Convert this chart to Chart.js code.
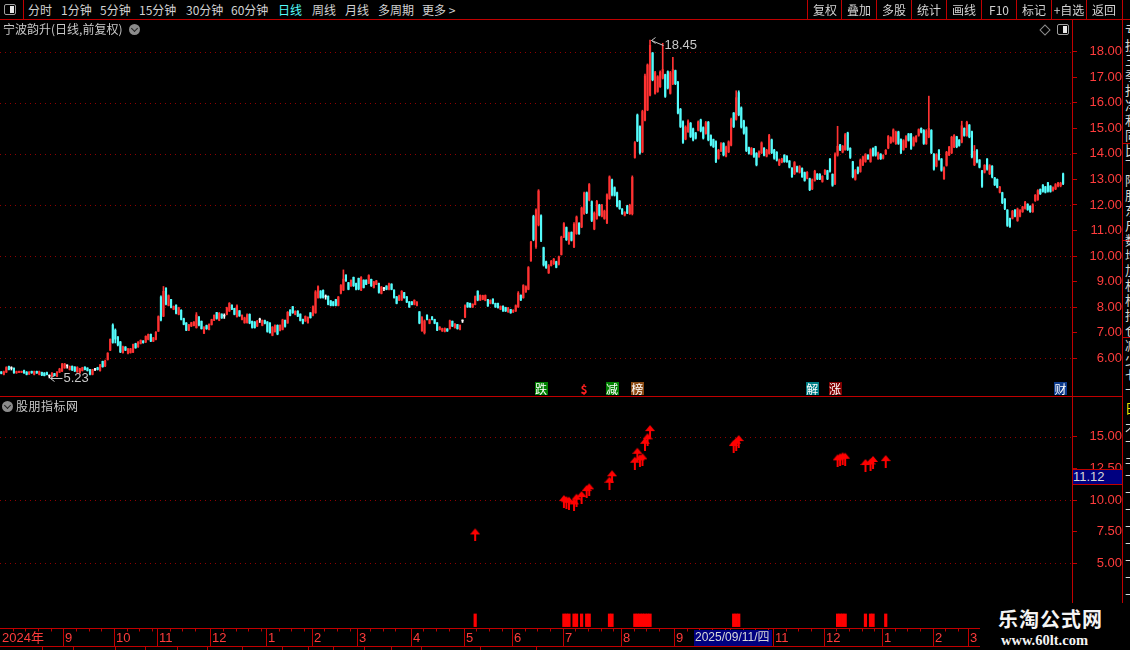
<!DOCTYPE html>
<html>
<head>
<meta charset="utf-8">
<title>宁波韵升 日线</title>
<script src="https://cdn.jsdelivr.net/npm/chart.js@4.4.1/dist/chart.umd.min.js"></script>
<style>
  html, body { margin: 0; padding: 0; background: #000; }
  #stage { position: relative; width: 1130px; height: 650px; overflow: hidden; background: #000;
           font-family: "Noto Sans CJK SC", "Liberation Sans", sans-serif; color: #c8c8c8; }
  .abs { position: absolute; }
  .tb { position: absolute; top: 2px; font-size: 12px; line-height: 16px; color: #d2d2d2; white-space: nowrap; }
  .tbr { position: absolute; top: 2px; width: 34px; text-align: center; font-size: 12px; line-height: 16px; color: #d2d2d2; }
  .vline { position: absolute; width: 1px; background: #c00000; }
  .hline { position: absolute; height: 1px; background: #c00000; }
  .tag { position: absolute; top: 382px; width: 13px; height: 13px; font-size: 12px; line-height: 13px;
         text-align: center; color: #fff; }
  .circ { position: absolute; width: 11px; height: 11px; border-radius: 50%; background: #8c8c8c; }
  .circ::after { content: ""; position: absolute; left: 3px; top: 2px; width: 4px; height: 4px;
                 border-right: 1.5px solid #222; border-bottom: 1.5px solid #222; transform: rotate(45deg); }
  .icon { position: absolute; width: 10px; height: 9px; border: 1.5px solid #a0a0a0; border-radius: 2px; }
  .icon::after { content: ""; position: absolute; right: 1px; top: 1px; width: 4px; height: 7px; background: #e8e8e8; }
  canvas { position: absolute; left: 0; }
</style>
</head>
<body>
<div id="stage">
  <!-- toolbar -->
  <div class="icon" style="left:4px;top:4px;"></div>
  <div class="vline" style="left:23px;top:0;height:20px;"></div>
  <span class="tb" style="left:28px;">分时</span>
  <span class="tb" style="left:61px;">1分钟</span>
  <span class="tb" style="left:100px;">5分钟</span>
  <span class="tb" style="left:139px;">15分钟</span>
  <span class="tb" style="left:186px;">30分钟</span>
  <span class="tb" style="left:231px;">60分钟</span>
  <span class="tb" style="left:278px;color:#54fcfc;">日线</span>
  <span class="tb" style="left:312px;">周线</span>
  <span class="tb" style="left:345px;">月线</span>
  <span class="tb" style="left:378px;">多周期</span>
  <span class="tb" style="left:422px;">更多 &gt;</span>
  <div class="hline" style="left:0;top:19px;width:1130px;"></div>

  <canvas id="main" width="1122" height="377" style="top:20px"></canvas>
  <canvas id="sub" width="1122" height="231" style="top:397px"></canvas>
  <canvas id="axis" width="1122" height="22" style="top:628px"></canvas>

  <!-- titles -->
  <span class="abs" style="left:3px;top:21px;font-size:12px;line-height:16px;color:#c8c8c8;">宁波韵升(日线,前复权)</span>
  <div class="circ" style="left:129px;top:24px;"></div>
  <div class="abs" style="left:1041px;top:26px;width:6px;height:6px;border:1px solid #8c8c8c;transform:rotate(45deg);"></div>
  <div class="icon" style="left:1057px;top:24px;"></div>

  <div class="hline" style="left:0;top:396px;width:1122px;"></div>
  <div class="circ" style="left:2px;top:401px;"></div>
  <span class="abs" style="left:16px;top:398px;font-size:12px;line-height:16px;color:#c8c8c8;letter-spacing:0.5px;">股朋指标网</span>

  <!-- cursor value on the indicator axis -->
  <div class="abs" style="left:1073px;top:469px;width:49px;height:14px;background:#000080;border-top:1px solid #c00000;border-bottom:1px solid #c00000;font:13px 'Liberation Sans';line-height:14px;color:#d8d8d8;">11.12</div>

  <!-- clipped side panel -->
  <div class="vline" style="left:1122px;top:0;height:650px;"></div>
  <div class="abs" style="left:1125px;top:22px;width:5px;height:372px;overflow:hidden;font-size:13px;line-height:15px;color:#d8d8d8;">亏<br>损<br>三<br>季<br>报<br>净<br>利<br>同<br>比<br>下<br>降<br>股<br>东<br>户<br>数<br>增<br>加<br>机<br>构<br>持<br>仓<br>减<br>少<br>七<br>十</div>
  <div class="hline" style="left:1123px;top:143px;width:7px;"></div>
  <div class="hline" style="left:1123px;top:240px;width:7px;"></div>
  <div class="hline" style="left:1123px;top:337px;width:7px;"></div>
  <div class="abs" style="left:1125px;top:400px;width:5px;height:15px;overflow:hidden;font-size:13px;line-height:15px;color:#e8e800;">日</div>
  <div class="abs" style="left:1125px;top:420px;width:5px;height:185px;overflow:hidden;font-size:13px;line-height:17px;color:#d8d8d8;">不<br>下<br>干<br>下<br>下<br>下<br>下<br>下<br>下<br>下<br>下</div>

  <!-- watermark -->
  <div class="abs" style="left:980px;top:603px;width:150px;height:47px;background:#000;"></div>
  <div class="abs" style="left:998px;top:606px;font-size:20px;line-height:26px;font-weight:bold;color:#f4f4f4;letter-spacing:1px;">乐淘公式网</div>
  <div class="abs" style="left:1001px;top:632px;font:bold 14.5px 'Liberation Serif';line-height:16px;color:#f4f4f4;">www.60lt.com</div>
</div>

<script>
// daily candles [open, high, low, close]
// Aug - Sep 2024
const kline1 = [
  [5.47,5.48,5.39,5.41],[5.37,5.50,5.35,5.47],[5.46,5.67,5.44,5.64],[5.68,5.70,5.54,5.56],
  [5.60,5.67,5.54,5.60],[5.61,5.63,5.41,5.44],[5.43,5.50,5.41,5.48],[5.45,5.50,5.44,5.49],
  [5.45,5.50,5.44,5.49],[5.52,5.54,5.41,5.43],[5.46,5.48,5.35,5.37],[5.38,5.48,5.37,5.46],
  [5.49,5.50,5.41,5.43],[5.37,5.50,5.35,5.48],[5.49,5.50,5.41,5.42],[5.37,5.50,5.35,5.48],
  [5.45,5.46,5.32,5.34],[5.42,5.44,5.31,5.32],[5.44,5.46,5.35,5.36],[5.30,5.35,5.23,5.30],
  [5.30,5.44,5.28,5.42],[5.40,5.41,5.31,5.32],[5.30,5.48,5.28,5.46],[5.46,5.61,5.44,5.58],
  [5.50,5.80,5.48,5.76],[5.62,5.80,5.61,5.78],[5.70,5.74,5.61,5.70],[5.56,5.70,5.54,5.68],
  [5.69,5.70,5.52,5.54],[5.66,5.67,5.48,5.50],[5.47,5.67,5.45,5.64],[5.43,5.61,5.41,5.59],
  [5.52,5.65,5.50,5.63],[5.66,5.67,5.54,5.56],[5.62,5.63,5.50,5.52],[5.56,5.57,5.35,5.38],
  [5.37,5.57,5.35,5.55],[5.56,5.61,5.52,5.56],[5.63,5.65,5.54,5.56],[5.52,5.76,5.50,5.74],
  [5.88,5.89,5.65,5.67],[5.70,5.93,5.67,5.90],[5.95,6.22,5.93,6.20],[6.32,6.76,6.30,6.74]
];
// Oct 2024 - early Jan 2025
const kline2 = [
  [7.30,7.35,6.59,6.62],[7.10,7.15,6.60,6.75],[6.84,6.85,6.48,6.52],[6.64,6.66,6.22,6.25],
  [6.22,6.48,6.20,6.45],[6.44,6.46,6.30,6.32],[6.20,6.39,6.17,6.37],[6.22,6.39,6.20,6.37],
  [6.24,6.56,6.22,6.54],[6.57,6.59,6.39,6.41],[6.45,6.65,6.43,6.63],[6.58,6.72,6.56,6.70],
  [6.68,6.69,6.59,6.61],[6.64,6.88,6.61,6.86],[6.74,6.95,6.72,6.93],[6.94,6.95,6.65,6.67],
  [6.67,6.82,6.65,6.80],[6.74,7.05,6.72,7.02],[7.06,7.66,7.05,7.63],[8.40,8.44,7.46,7.50],
  [7.65,8.81,7.63,8.62],[8.75,8.76,8.09,8.12],[8.07,8.48,8.05,8.45],[8.30,8.31,7.97,7.99],
  [7.92,8.05,7.90,8.03],[8.08,8.09,7.74,7.76],[7.72,8.00,7.70,7.98],[7.88,7.90,7.50,7.52],
  [7.55,7.57,7.31,7.33],[7.38,7.40,7.08,7.10],[7.10,7.33,7.08,7.31],[7.26,7.41,7.24,7.39],
  [7.28,7.44,7.27,7.42],[7.20,7.79,7.18,7.70],[7.62,7.63,7.27,7.30],[7.45,7.46,7.14,7.16],
  [6.98,7.24,6.96,7.20],[7.28,7.30,7.13,7.16],[7.12,7.35,7.11,7.33],[7.32,7.53,7.30,7.51],
  [7.49,7.70,7.47,7.68],[7.79,7.80,7.53,7.56],[7.49,7.79,7.47,7.76],[7.73,7.74,7.56,7.58],
  [7.65,7.74,7.56,7.65],[7.72,8.00,7.70,7.97],[7.85,8.18,7.83,8.15],[8.08,8.09,7.90,7.92],
  [7.95,7.96,7.70,7.72],[7.63,8.09,7.61,8.05],[7.86,7.87,7.64,7.66],[7.52,7.70,7.50,7.68],
  [7.39,7.61,7.37,7.58],[7.40,7.74,7.37,7.70],[7.72,7.74,7.35,7.38],[7.45,7.46,7.18,7.21],
  [7.42,7.44,7.18,7.20],[7.26,7.48,7.24,7.46],[7.50,7.57,7.40,7.50],[7.29,7.50,7.27,7.48],
  [7.48,7.50,7.35,7.37],[7.42,7.44,7.02,7.05]
];
// Jan - Jun 2025
const kline3 = [
  [7.38,7.40,6.98,7.00],[6.90,7.24,6.88,7.22],[7.04,7.31,7.02,7.28],[7.29,7.31,6.92,6.95],
  [7.09,7.31,7.07,7.29],[7.13,7.53,7.11,7.50],[7.49,7.50,7.22,7.25],[7.38,7.83,7.37,7.80],
  [7.89,7.90,7.66,7.68],[8.02,8.03,7.76,7.78],[7.72,7.86,7.70,7.84],[7.85,7.86,7.63,7.65],
  [7.73,7.74,7.46,7.48],[7.52,7.53,7.35,7.37],[7.46,7.66,7.44,7.64],[7.39,7.62,7.37,7.60],
  [7.78,7.79,7.57,7.59],[7.68,8.05,7.66,8.02],[7.78,8.65,7.76,8.60],[8.37,8.84,8.35,8.80],
  [8.63,8.65,8.35,8.38],[8.66,8.68,8.35,8.38],[8.40,8.48,8.31,8.40],[8.43,8.44,8.09,8.11],
  [8.25,8.26,8.05,8.07],[8.21,8.22,8.05,8.07],[8.30,8.31,8.05,8.07],[8.07,8.42,8.05,8.40],
  [8.55,8.88,8.52,8.85],[8.67,9.46,8.65,9.10],[9.26,9.27,9.01,9.03],[8.96,8.97,8.68,8.70],
  [8.83,9.07,8.81,9.05],[9.17,9.18,8.81,8.84],[8.93,8.94,8.68,8.70],[9.13,9.14,8.68,8.71],
  [8.67,9.20,8.65,9.17],[9.06,9.07,8.75,8.77],[9.06,9.07,8.88,8.90],[8.94,9.27,8.92,9.24],
  [9.09,9.10,8.81,8.84],[8.77,9.01,8.75,8.99],[8.89,9.05,8.88,9.03],[8.93,8.94,8.55,8.58],
  [8.54,8.81,8.52,8.79],[8.72,8.78,8.65,8.72],[8.83,8.84,8.68,8.70],[8.70,8.94,8.68,8.92],
  [8.90,8.92,8.68,8.70],[8.67,8.68,8.35,8.38],[8.41,8.42,8.13,8.15],[8.28,8.47,8.26,8.45],
  [8.28,8.65,8.26,8.62],[8.57,8.58,8.35,8.37],[8.41,8.42,8.18,8.20],[8.21,8.22,7.99,8.01],
  [8.21,8.22,8.09,8.10],[8.11,8.29,8.09,8.27],[8.07,8.22,8.05,8.20],[7.82,7.83,7.35,7.38],
  [7.08,7.63,7.05,7.60],[7.00,7.50,6.95,7.46],[7.69,7.70,7.50,7.52],[7.37,7.53,7.35,7.51],
  [7.62,7.63,7.50,7.52],[7.52,7.53,7.35,7.37],[7.39,7.40,7.08,7.10],[7.13,7.24,7.11,7.22],
  [7.07,7.18,7.05,7.16],[7.05,7.19,7.03,7.17],[7.15,7.16,7.05,7.07],[7.16,7.50,7.14,7.47],
  [7.45,7.46,7.24,7.26],[7.20,7.36,7.18,7.34],[7.32,7.33,7.14,7.16],[7.13,7.31,7.11,7.29],
  [7.46,7.50,7.40,7.46],[7.61,8.09,7.59,8.06],[8.17,8.18,7.99,8.01],[8.15,8.16,7.99,8.01],
  [8.00,8.13,7.99,8.12],[8.10,8.44,8.09,8.42],[8.63,8.64,8.25,8.28],[8.28,8.48,8.26,8.46],
  [8.31,8.47,8.29,8.45],[8.27,8.48,8.25,8.46],[8.30,8.31,8.03,8.05],[8.15,8.29,8.13,8.27],
  [8.32,8.33,8.13,8.15],[8.15,8.16,7.99,8.01],[8.15,8.16,7.96,7.98],[7.92,8.05,7.90,8.03],
  [8.04,8.05,7.83,7.85],[7.99,8.00,7.83,7.85],[7.82,7.99,7.80,7.97],[7.91,7.92,7.76,7.78],
  [7.81,7.90,7.79,7.88],[7.85,8.09,7.83,8.06],[8.01,8.61,7.99,8.55],[8.47,8.48,8.26,8.28],
  [8.37,8.88,8.35,8.85],[8.60,8.84,8.58,8.80]
];
// Jul - Oct 2025
const kline4 = [
  [8.70,9.59,8.68,9.55],[9.82,10.58,9.79,10.55],[11.55,11.60,10.60,10.65],[10.36,11.85,10.30,11.80],
  [11.22,12.60,11.18,12.55],[11.58,11.61,10.56,10.62],[10.33,10.35,9.61,9.65],[9.78,9.80,9.52,9.55],
  [9.34,9.67,9.32,9.62],[9.63,9.83,9.61,9.80],[9.70,9.91,9.67,9.88],[9.78,9.80,9.54,9.56],
  [9.68,10.00,9.65,9.97],[10.06,10.78,10.04,10.74],[10.75,11.31,10.72,11.27],[11.12,11.14,10.61,10.64],
  [10.49,10.94,10.46,10.90],[10.93,10.95,10.59,10.62],[10.36,11.31,10.33,11.25],[10.88,11.57,10.85,11.53],
  [11.28,11.31,10.85,10.88],[11.14,11.92,11.11,11.88],[11.66,12.51,11.63,12.47],[12.48,12.51,11.66,11.70],
  [12.19,12.84,12.16,12.80],[12.13,12.16,11.35,11.40],[11.06,11.73,11.03,11.68],[11.47,12.18,11.44,12.14],
  [12.00,12.03,11.57,11.60],[11.56,12.03,11.53,11.98],[11.47,11.80,11.44,11.76],[11.30,12.44,11.27,12.40],
  [12.25,13.14,12.22,13.10],[12.98,13.01,12.35,12.40],[12.68,12.71,12.35,12.38],[12.48,12.51,11.92,11.96],
  [12.15,12.18,11.83,11.86],[11.84,11.86,11.63,11.66],[11.60,11.74,11.57,11.71],[11.96,11.99,11.66,11.69],
  [11.66,12.03,11.63,11.99],[11.66,13.14,11.61,13.08],[13.86,14.48,13.83,14.44],[15.52,15.56,14.48,14.52],
  [15.07,15.10,13.99,14.05],[14.08,15.71,14.05,15.66],[15.32,17.12,15.29,17.05],[15.72,17.52,15.69,17.48],
  [16.30,18.45,16.27,18.25],[17.95,17.97,16.86,16.90],[16.37,17.23,16.34,17.18],[16.44,17.06,16.41,17.02],
  [16.63,17.25,16.60,17.20],[16.96,18.33,16.93,17.30],[17.10,17.12,16.21,16.25],[17.22,17.25,16.54,16.58],
  [16.37,17.23,16.34,17.18],[16.74,17.78,16.71,17.30],[17.26,17.28,16.71,16.75],[16.80,16.84,15.56,15.60],
  [15.75,15.78,15.03,15.07],[15.26,15.29,14.41,14.45],[14.58,15.10,14.55,15.05],[14.87,15.33,14.84,15.28],
  [15.20,15.23,14.64,14.68],[14.98,15.01,14.51,14.55],[14.82,14.84,14.58,14.61],[14.93,15.29,14.90,15.25],
  [15.33,15.36,14.86,14.90],[15.03,15.06,14.58,14.62],[14.80,15.27,14.77,15.22],[15.24,15.27,14.51,14.55],
  [14.72,14.75,14.31,14.35],[14.56,14.58,14.25,14.28],[14.48,14.51,13.66,13.70],[13.82,14.18,13.79,14.14],
  [14.12,14.44,14.09,14.40],[14.41,14.44,13.92,13.96],[13.91,14.31,13.88,14.27],[14.08,14.51,14.05,14.47],
  [14.34,15.40,14.31,15.35],[15.60,15.62,15.03,15.07],[15.35,16.47,15.32,16.20],[16.40,16.47,15.49,15.53],
  [15.80,15.84,15.01,15.05],[15.29,15.32,14.77,14.81],[15.03,15.06,14.09,14.13],[14.25,14.27,13.99,14.02],
  [13.99,14.25,13.96,14.21],[14.20,14.22,13.86,13.90],[14.02,14.05,13.53,13.57],[13.89,14.12,13.86,14.08],
  [14.04,14.47,14.01,14.43],[14.22,14.25,13.92,13.95],[13.91,14.18,13.88,14.14],[14.02,14.77,13.99,14.72],
  [14.55,14.58,14.01,14.05],[14.15,14.18,13.79,13.83],[14.06,14.09,13.72,13.76]
];
// Nov 2025 - Apr 2026
const kline5 = [
  [13.57,13.80,13.54,13.76],[13.68,13.83,13.65,13.80],[13.95,13.97,13.67,13.70],[13.90,13.93,13.67,13.70],
  [13.72,13.74,13.45,13.48],[13.44,13.46,13.08,13.11],[13.22,13.70,13.19,13.66],[13.50,13.52,13.28,13.31],
  [13.28,13.54,13.25,13.50],[13.43,13.45,13.08,13.11],[13.27,13.29,12.93,12.96],[13.05,13.31,13.02,13.28],
  [13.03,13.05,12.56,12.60],[12.63,13.02,12.60,12.98],[12.96,13.36,12.93,13.32],[13.21,13.23,12.99,13.02],
  [13.20,13.23,12.99,13.01],[12.92,13.15,12.89,13.12],[13.22,13.39,13.19,13.36],[13.34,13.36,12.99,13.02],
  [13.80,13.82,13.28,13.32],[13.20,13.22,12.73,12.77],[12.84,14.04,12.80,13.98],[13.95,15.08,13.91,14.30],
  [14.35,14.37,14.13,14.16],[14.07,14.33,14.04,14.30],[14.17,14.80,14.14,14.75],[14.82,14.85,14.13,14.17],
  [14.22,14.24,13.82,13.86],[13.69,13.71,13.06,13.10],[13.00,13.39,12.97,13.35],[13.47,13.49,13.22,13.25],
  [13.31,13.80,13.28,13.76],[13.57,13.91,13.54,13.88],[13.70,14.01,13.67,13.98],[13.95,13.97,13.78,13.81],
  [13.70,14.20,13.67,14.16],[14.22,14.24,13.91,13.94],[14.28,14.30,13.91,13.95],[13.81,14.07,13.78,14.04],
  [13.99,14.01,13.78,13.81],[13.83,13.97,13.80,13.94],[14.00,14.17,13.97,14.14],[14.23,14.72,14.20,14.68],
  [14.44,14.67,14.41,14.64],[14.49,14.98,14.46,14.94],[14.40,14.89,14.37,14.85],[14.86,14.89,14.37,14.41],
  [14.57,14.59,14.01,14.05],[14.17,14.56,14.14,14.52],[14.27,14.72,14.24,14.68],[14.78,14.80,14.50,14.53],
  [14.77,14.80,14.17,14.21],[14.33,14.67,14.30,14.63],[14.49,14.72,14.46,14.69],[14.72,14.98,14.69,14.95],
  [15.00,15.02,14.82,14.85],[14.92,14.95,14.37,14.41],[14.40,14.95,14.37,14.90],[14.66,16.26,14.63,15.00],
  [14.92,14.95,14.01,14.05],[13.99,14.01,13.36,13.40],[13.52,14.01,13.49,13.97],[14.15,14.17,13.75,13.79],
  [13.80,13.82,13.32,13.36],[13.03,13.49,13.00,13.45],[13.55,14.10,13.52,14.06],[13.96,14.30,13.93,14.26],
  [14.04,14.69,14.01,14.65],[14.27,14.76,14.24,14.72],[14.67,14.69,14.24,14.28],[14.54,14.56,14.30,14.33],
  [14.46,15.28,14.43,15.10],[15.00,15.02,14.69,14.72],[14.72,15.28,14.69,15.24],[15.13,15.15,14.63,14.67],
  [14.87,14.89,13.84,13.88],[13.57,14.33,13.54,14.10],[14.15,14.17,13.65,13.69],[13.76,13.78,13.45,13.48],
  [13.34,13.36,12.69,12.73],[13.28,13.58,13.25,13.55],[13.80,13.82,13.36,13.40],[13.22,13.58,13.19,13.54],
  [13.52,13.54,13.06,13.10],[13.06,13.08,12.76,12.79],[13.00,13.02,12.67,12.70],[12.50,12.73,12.47,12.70],
  [12.48,12.50,12.05,12.09],[12.23,12.25,11.82,11.86],[11.80,11.82,11.16,11.20],[11.47,11.49,11.12,11.16],
  [11.48,11.79,11.45,11.75],[11.80,11.82,11.53,11.56],[11.39,11.88,11.36,11.84],[11.56,11.82,11.53,11.78],
  [11.74,11.95,11.71,11.92],[11.87,12.14,11.84,12.10],[12.03,12.05,11.79,11.82],[11.95,11.97,11.71,11.74],
  [11.74,12.05,11.71,12.01],[12.17,12.41,12.14,12.38],[12.21,12.60,12.18,12.56],[12.61,12.63,12.41,12.44],
  [12.78,12.80,12.50,12.53],[12.71,12.73,12.47,12.50],[12.87,12.89,12.50,12.54],[12.74,12.76,12.50,12.53],
  [12.57,12.71,12.54,12.68],[12.63,12.84,12.60,12.80],[12.74,12.89,12.71,12.86],[12.75,12.89,12.71,12.85],
  [13.22,13.25,12.80,12.84]
];

// indicator pane: signal days (candle index) and arrow values
const signalIndex = [187, 222, 223, 224, 226, 227, 229, 231, 232, 240, 241,
                     250, 251, 252, 253, 254, 255, 256, 289, 290, 291,
                     330, 331, 332, 333, 341, 343, 344, 349];
const signalValue = [7.76, 10.39, 10.30, 10.26, 10.13, 10.50, 10.71, 11.18, 11.32, 11.84, 12.35,
                     13.42, 14.13, 13.61, 13.69, 14.92, 15.27, 15.92, 14.74, 14.92, 15.13,
                     13.61, 13.69, 13.77, 13.74, 13.24, 13.29, 13.48, 13.55];

// price / indicator axis ticks
const mainTicks = [6, 7, 8, 9, 10, 11, 12, 13, 14, 15, 16, 17, 18];
const mainDotted = [6, 8, 10, 12, 14, 16, 18];
const subTicks = [5, 7.5, 10, 12.5, 15];
const subDotted = [5, 10, 15];

// time axis: month labels at the first candle of each month
const monthNames = ['9', '10', '11', '12', '1', '2', '3', '4', '5', '6', '7', '8', '9', '10', '11', '12', '1', '2', '3'];
const monthStart = [25, 45, 62, 83, 105, 123, 141, 162, 183, 202, 222, 245, 266, 288, 305, 325, 348, 368, 382];
const cursorIndex = 274;
const cursorLabel = '2025/09/11/四';

// event tags under the candles
const tagIndex = [213, 230, 241, 251, 320, 329, 418];
const tagText = ['跌', '$', '减', '榜', '解', '涨', '财'];
const tagColor = { '跌': '#008000', '$': 'transparent', '减': '#008000', '榜': '#8b4a12', '解': '#007f86', '涨': '#800000', '财': '#0c3a8c' };

const toolRight = ['复权', '叠加', '多股', '统计', '画线', 'F10', '标记', '+自选', '返回'];

const kline = [...kline1, ...kline2, ...kline3, ...kline4, ...kline5];
const SLOT_COUNT = kline.length + 3;
const slots = Array.from({ length: SLOT_COUNT }, (_, i) => i);

const UP = '#ff3232', DOWN = '#54fcfc', FLAT = '#ffffff';
const axisRed = '#c00000', labelRed = '#ff3c3c', dotRed = '#900000';

Chart.defaults.font.family = '"Liberation Sans", "Noto Sans CJK SC", sans-serif';

const stage = document.getElementById('stage');

// right side buttons of the toolbar
const sepX = [807, 841, 876, 911, 946, 981, 1016, 1051, 1086, 1122];
toolRight.forEach((t, i) => {
    const s = document.createElement('span');
    s.className = 'tbr';
    s.style.left = (sepX[i] + 1) + 'px';
    s.textContent = t;
    stage.appendChild(s);
});
sepX.forEach(x => {
    const l = document.createElement('div');
    l.className = 'vline';
    l.style.left = x + 'px';
    l.style.top = '0px';
    l.style.height = '20px';
    stage.appendChild(l);
});

const candleColor = (ctx) => {
    const k = kline[ctx.dataIndex];
    if (!k) return 'transparent';
    return k[3] > k[0] ? UP : (k[3] < k[0] ? DOWN : FLAT);
};

// dotted horizontal guide lines
const dottedGrid = {
    id: 'dottedGrid',
    beforeDatasetsDraw(chart, args, opts) {
        const { ctx, chartArea, scales } = chart;
        ctx.save();
        ctx.strokeStyle = dotRed;
        ctx.lineWidth = 1;
        ctx.setLineDash([1, 4]);
        opts.levels.forEach(v => {
            const y = Math.round(scales.y.getPixelForValue(v)) + 0.5;
            ctx.beginPath();
            ctx.moveTo(chartArea.left, y);
            ctx.lineTo(chartArea.right, y);
            ctx.stroke();
        });
        ctx.restore();
    }
};

// highest high / lowest low markers
const extremeLabels = {
    id: 'extremeLabels',
    afterDatasetsDraw(chart) {
        const { ctx, scales: { x, y } } = chart;
        let hi = 0, lo = 0;
        kline.forEach((k, i) => {
            if (k[1] > kline[hi][1]) hi = i;
            if (k[2] < kline[lo][2]) lo = i;
        });
        ctx.save();
        ctx.strokeStyle = '#c8c8c8';
        ctx.fillStyle = '#c8c8c8';
        ctx.lineWidth = 1;
        ctx.font = '13px "Liberation Sans"';
        ctx.textBaseline = 'middle';
        [[hi, kline[hi][1], 5], [lo, kline[lo][2], 0]].forEach(([i, v, dy]) => {
            const px = Math.round(x.getPixelForValue(i)) + 1.5;
            const py = Math.round(y.getPixelForValue(v)) + 0.5;
            ctx.beginPath();
            ctx.moveTo(px + 4, py - 3);
            ctx.lineTo(px, py);
            ctx.lineTo(px + 4, py + 3);
            ctx.moveTo(px, py);
            ctx.lineTo(px + 12, py + dy);
            ctx.stroke();
            ctx.fillText(v.toFixed(2), px + 13, py + dy);
        });
        ctx.restore();
    }
};

const rightAxis = (min, max, ticks) => ({
    position: 'right',
    min: min,
    max: max,
    afterBuildTicks: s => { s.ticks = ticks.map(v => ({ value: v })); },
    afterFit: s => { s.width = 50; s.paddingTop = 0; s.paddingBottom = 0; },
    grid: { drawOnChartArea: false, color: axisRed, tickLength: 5 },
    border: { color: axisRed },
    ticks: { color: labelRed, font: { size: 13 }, padding: 6, crossAlign: 'far', autoSkip: false,
             callback: v => Number(v).toFixed(2) }
});

const mainChart = new Chart(document.getElementById('main'), {
    type: 'bar',
    data: {
        labels: slots,
        datasets: [
            {
                data: kline.map(k => [k[2], k[1]]),
                backgroundColor: candleColor,
                barThickness: 1,
                grouped: false,
                order: 2
            },
            {
                data: kline.map(k => [k[0], k[3]]),
                backgroundColor: candleColor,
                barThickness: 1.5,
                minBarLength: 1,
                grouped: false,
                order: 1
            }
        ]
    },
    options: {
        responsive: false,
        animation: false,
        layout: { padding: 0, autoPadding: false },
        plugins: {
            legend: { display: false },
            tooltip: { enabled: false },
            dottedGrid: { levels: mainDotted }
        },
        scales: {
            x: { display: false },
            y: rightAxis(4.485, 19.24, mainTicks)
        }
    },
    plugins: [dottedGrid, extremeLabels]
});

// arrow marker used by the indicator points (tip sits on the value)
const arrowImg = document.createElement('canvas');
arrowImg.width = 10;
arrowImg.height = 26;
const a = arrowImg.getContext('2d');
a.fillStyle = '#ff0000';
a.beginPath();
a.moveTo(5, 13); a.lineTo(10, 19); a.lineTo(0, 19);
a.closePath();
a.fill();
a.fillRect(4, 19, 2, 7);

const arrowSeries = slots.map(i => {
    const p = signalIndex.indexOf(i);
    return p >= 0 ? signalValue[p] : null;
});
const stickSeries = slots.map(i => (signalIndex.includes(i) ? 1 : null));

const subChart = new Chart(document.getElementById('sub'), {
    type: 'bar',
    data: {
        labels: slots,
        datasets: [
            {
                type: 'line',
                data: arrowSeries,
                showLine: false,
                pointStyle: arrowImg,
                pointRadius: 5,
                order: 0
            },
            {
                data: stickSeries,
                backgroundColor: '#ff0000',
                barPercentage: 1,
                categoryPercentage: 1,
                order: 1
            }
        ]
    },
    options: {
        responsive: false,
        animation: false,
        layout: { padding: 0, autoPadding: false },
        plugins: {
            legend: { display: false },
            tooltip: { enabled: false },
            dottedGrid: { levels: subDotted }
        },
        scales: {
            x: { display: false },
            y: rightAxis(-0.11, 18.14, subTicks)
        }
    },
    plugins: [dottedGrid]
});

// month axis under the indicator pane, placed with the indicator's x scale
(function drawTimeAxis() {
    const x = subChart.scales.x;
    const ctx = document.getElementById('axis').getContext('2d');
    const right = subChart.chartArea.right;
    const slot = x.getPixelForValue(1) - x.getPixelForValue(0);
    const top = 0.5;
    const bottom = 18.5;
    const edge = (i) => Math.round(x.getPixelForValue(i) - slot / 2) + 0.5;
    ctx.strokeStyle = axisRed;
    ctx.lineWidth = 1;
    ctx.beginPath();
    ctx.moveTo(0, top); ctx.lineTo(right, top);
    ctx.moveTo(0, bottom); ctx.lineTo(right, bottom);
    const starts = [0, ...monthStart, SLOT_COUNT];
    starts.forEach((s, m) => {
        if (m > 0 && m < starts.length - 1) {
            ctx.moveTo(edge(s), top); ctx.lineTo(edge(s), bottom);
        }
        for (let k = s + 5; k < starts[m + 1] - 1 && k < SLOT_COUNT; k += 5) {
            ctx.moveTo(edge(k), top); ctx.lineTo(edge(k), top + 3);
        }
    });
    [42, 73, 115, 145, 177, 207, 242, 282, 308, 333, 364, 391, 421, 480, 536].forEach(px => {
        ctx.moveTo(px + 0.5, bottom); ctx.lineTo(px + 0.5, bottom + 4);
    });
    ctx.stroke();
    ctx.fillStyle = labelRed;
    ctx.font = '13px "Liberation Sans", "Noto Sans CJK SC"';
    ctx.textBaseline = 'middle';
    ctx.fillText('2024年', 2, top + 9.5);
    monthStart.forEach((s, m) => ctx.fillText(monthNames[m], edge(s) + 1.5, top + 9.5));
    // cursor date box
    const bx = edge(cursorIndex) - 0.5;
    ctx.fillStyle = '#000080';
    ctx.fillRect(bx, top + 1.5, 78, 16);
    ctx.fillStyle = '#d8d8d8';
    ctx.font = '12px "Liberation Sans", "Noto Sans CJK SC"';
    ctx.fillText(cursorLabel, bx + 1, top + 9.5);
})();

// event tags placed on the candle positions
tagIndex.forEach((idx, i) => {
    const el = document.createElement('div');
    el.className = 'tag';
    el.textContent = tagText[i];
    el.style.left = (mainChart.scales.x.getPixelForValue(idx) - 6.5) + 'px';
    el.style.background = tagColor[tagText[i]];
    if (tagText[i] === '$') { el.style.color = '#ff2020'; el.style.fontWeight = 'bold'; }
    stage.appendChild(el);
});
// keep the overlays above the canvases
stage.querySelectorAll('.abs').forEach(el => { el.style.zIndex = 2; });
</script>
</body>
</html>
